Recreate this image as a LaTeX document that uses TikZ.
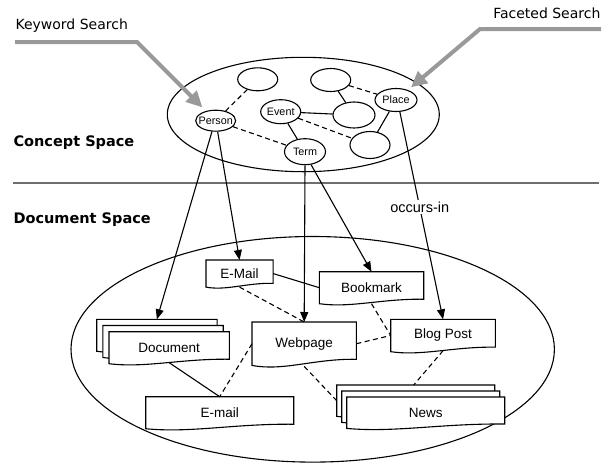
\documentclass[tikz,border=0pt]{standalone}
\usepackage{fontspec}
\setmainfont{Liberation Sans}
\newfontfamily\vfont{DejaVu Sans}
\usetikzlibrary{shapes.geometric,arrows.meta,calc}
\pgfdeclarelayer{bg}
\pgfsetlayers{bg,main}
\definecolor{arrgray}{HTML}{999999}
\definecolor{sepgray}{HTML}{6E6E6E}
\newcommand\docout[1]{%
  \path[docline] let \p1=(#1.north west), \p2=(#1.south east),
    \n1={\y1-\y2}, \n2={\x2-\x1} in
    (\x1,\y1) -- (\x2,\y1) -- ({\x2},{\y2+0.14*\n1*1pt})
    .. controls ({\x1+0.6*\n2*1pt},{\y2+0.16*\n1*1pt}) and ({\x1+0.3*\n2*1pt},{\y2-0.14*\n1*1pt}) ..
    (\x1,\y2) -- cycle;}
\begin{document}
\begin{tikzpicture}[x=1pt,y=-1pt,line width=1.1pt,
  cnode/.style={ellipse, draw, fill=white, inner sep=0pt, font=\fontsize{10.8}{12}\selectfont},
  docnode/.style={rectangle, inner sep=0pt, anchor=north west, font=\fontsize{13.5}{15}\selectfont},
  docline/.style={draw, fill=white, line width=1.1pt},
  solidconn/.style={line width=1.1pt},
  dashconn/.style={line width=1.1pt, dash pattern=on 5pt off 3.5pt},
  arr/.style={-{Triangle[length=10pt,width=8pt]}, line width=1.1pt},
  grayarr/.style={draw=arrgray, line width=4pt, -{Triangle[length=16pt,width=15pt,fill=arrgray]}, line join=miter},
  heading/.style={font=\vfont\fontsize{14}{16}\selectfont, inner sep=0pt},
  boldhead/.style={font=\vfont\bfseries\fontsize{14.5}{16}\selectfont, inner sep=0pt},
  bigell/.style={ellipse, draw, inner sep=0pt, line width=1.1pt}]
\useasboundingbox (0,0) rectangle (611,464);

% headings
\node[heading, anchor=west] (kw) at (15,26) {Keyword Search};
\node[heading, anchor=east] (fs) at (601,13.3) {Faceted Search};
\node[boldhead, anchor=west] (cs) at (13,142.7) {Concept Space};
\node[boldhead, anchor=west] (ds) at (13,219.3) {Document Space};

% separator
\draw[sepgray, line width=2pt] (13,183) -- (599,183);

% concept space
\node[bigell, minimum width=272, minimum height=114.4] (concept) at (303.3,114.5) {};
\node[cnode, minimum width=40, minimum height=21] (Person) at (215.7,120.7) {\makebox[0pt][c]{Person}};
\node[cnode, minimum width=40, minimum height=23] (ccTL) at (257.7,79.3) {};
\node[cnode, minimum width=40, minimum height=24] (Event) at (280.7,111.7) {\makebox[0pt][c]{Event}};
\node[cnode, minimum width=40, minimum height=23] (ccTR) at (330.7,80) {};
\node[cnode, minimum width=42, minimum height=23] (Place) at (396,100) {\makebox[0pt][c]{Place}};
\node[cnode, minimum width=42, minimum height=26] (ccMR) at (354,115) {};
\node[cnode, minimum width=41, minimum height=26] (Term) at (305,151.7) {\makebox[0pt][c]{Term}};
\node[cnode, minimum width=40, minimum height=27] (ccBR) at (370,145) {};

\draw[dashconn] (Person) -- (ccTL);
\draw[dashconn] (Person) -- (Term);
\draw[solidconn] (Event) -- (Term);
\draw[solidconn] (Event) -- (ccMR);
\draw[dashconn] (Event) -- (ccBR);
\draw[solidconn] (ccTR) -- (ccMR);
\draw[dashconn] (ccTR) -- (Place);
\draw[solidconn] (Place) -- (ccBR);

% gray search arrows
\coordinate (kwstart) at (15,42);
\coordinate (kwbend) at (137,42);
\draw[grayarr, shorten >=5pt] (kwstart) -- (kwbend) -- (Person);
\coordinate (fsstart) at (601,29);
\coordinate (fsbend) at (480,29);
\draw[grayarr, shorten >=4pt] (fsstart) -- (fsbend) -- (Place);

% document space
\begin{pgfonlayer}{bg}
\node[bigell, minimum width=483.4, minimum height=225.6] (docspace) at (312.7,349.3) {};
\end{pgfonlayer}

\node[docnode, minimum width=66.7, minimum height=26.7] (email1) at (206,260) {E-Mail};
\node[docnode, minimum width=104, minimum height=31.6] (bookmark) at (319.3,271.7) {Bookmark};
\node[docnode, minimum width=104, minimum height=43] (webpage) at (252,322) {Webpage};
\node[docnode, minimum width=104.3, minimum height=32] (blogpost) at (390.7,319.3) {Blog Post};
\node[docnode, minimum width=120, minimum height=31.6] (docA) at (96.7,319.3) {};
\node[docnode, minimum width=120, minimum height=31.6] (docB) at (102.8,325.5) {};
\node[docnode, minimum width=120, minimum height=31.6] (document) at (109,331.7) {Document};
\node[docnode, minimum width=147.6, minimum height=31.6] (email2) at (145.7,396.7) {E-mail};
\node[docnode, minimum width=157.6, minimum height=31] (newsA) at (336.7,385) {};
\node[docnode, minimum width=157.6, minimum height=31] (newsB) at (341.7,391) {};
\node[docnode, minimum width=157.6, minimum height=31] (news) at (346.7,397) {News};

\begin{pgfonlayer}{bg}
\docout{email1}
\docout{bookmark}
\docout{webpage}
\docout{blogpost}
\docout{docA}
\docout{docB}
\docout{document}
\docout{email2}
\docout{newsA}
\docout{newsB}
\docout{news}
\end{pgfonlayer}

% document connectors
\draw[solidconn] (email1.east) -- (bookmark.west);
\draw[dashconn] (email1.south) -- (webpage.north);
\draw[dashconn] (bookmark.south) -- (blogpost.west);
\draw[dashconn] (webpage.east) -- (blogpost.west);
\draw[solidconn] ($(document.south)+(0,1pt)$) -- (email2.north);
\draw[dashconn] (webpage.west) -- (email2.north);
\draw[dashconn] ($(webpage.south)+(0,-1pt)$) -- (newsA.west);
\draw[dashconn] ($(blogpost.south)+(0,1pt)$) -- ($(newsA.north)+(-2,0)$);

% occurs-in arrows
\draw[arr] (Person.-109) -- (docA.north);
\draw[arr] (Person.-80) -- (email1.north);
\draw[arr] (Term.south) -- (webpage.north);
\draw[arr] (Term.-65) -- (bookmark.north);
\draw[arr] (Place.-72) -- node[pos=0.46, fill=white, inner sep=1.5pt, font=\fontsize{14.5}{16}\selectfont] (occ) {occurs-in} (blogpost.north);
\end{tikzpicture}
\end{document}
